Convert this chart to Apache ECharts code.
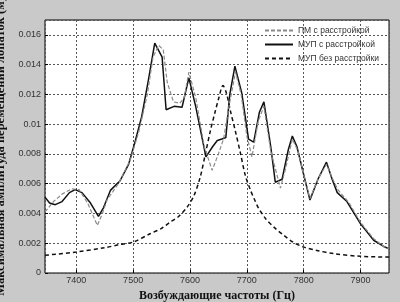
<!DOCTYPE html>
<html>
<head>
<meta charset="utf-8">
<script src="https://cdn.jsdelivr.net/npm/echarts@6/dist/echarts.min.js"></script>
<style>
  html, body { margin: 0; padding: 0; background: #c9c9c9; }
  #chart { width: 400px; height: 302px; }
</style>
</head>
<body>
<div id="chart"></div>
<script>
// ПМ с расстройкой
const pmFreq = [7345, 7360, 7375, 7392, 7405, 7420, 7437, 7446, 7454, 7474, 7495, 7510, 7525, 7535, 7545, 7553, 7560, 7571, 7582, 7590, 7598, 7610, 7625, 7639, 7650, 7659, 7670, 7680, 7690, 7700, 7709, 7720, 7730, 7742, 7759, 7768, 7780, 7790, 7800, 7811, 7825, 7840, 7850, 7860, 7880, 7900, 7923, 7940, 7951]
const pmAmp = [0.0041, 0.0048, 0.0053, 0.00566, 0.0056, 0.0047, 0.0032, 0.0040, 0.0049, 0.0060, 0.0076, 0.0095, 0.0120, 0.0145, 0.0153, 0.0150, 0.0128, 0.0115, 0.0114, 0.0118, 0.0135, 0.0118, 0.0085, 0.0069, 0.0080, 0.0090, 0.0115, 0.0135, 0.0120, 0.0092, 0.0078, 0.0102, 0.0112, 0.0082, 0.0057, 0.0070, 0.0090, 0.0082, 0.0066, 0.0050, 0.0063, 0.0073, 0.0064, 0.0056, 0.0047, 0.0034, 0.0023, 0.0018, 0.0016]

// МУП с расстройкой
const mupFreq = [7345, 7353, 7363, 7375, 7388, 7398, 7410, 7425, 7439, 7448, 7460, 7477, 7492, 7504, 7515, 7527, 7538, 7551, 7558, 7572, 7586, 7598, 7610, 7628, 7640, 7648, 7656, 7663, 7670, 7679, 7691, 7703, 7712, 7722, 7730, 7742, 7750, 7762, 7773, 7780, 7788, 7800, 7811, 7825, 7840, 7850, 7859, 7876, 7900, 7923, 7940, 7951]
const mupAmp = [0.0051, 0.0047, 0.00459, 0.0048, 0.0054, 0.0056, 0.0054, 0.0047, 0.0038, 0.0044, 0.00555, 0.0062, 0.0073, 0.0089, 0.0105, 0.0130, 0.01544, 0.0145, 0.01097, 0.0112, 0.01114, 0.01311, 0.0112, 0.0078, 0.0085, 0.0089, 0.0090, 0.0091, 0.0120, 0.0139, 0.0121, 0.0090, 0.0088, 0.0108, 0.0115, 0.0085, 0.0061, 0.0063, 0.0083, 0.0092, 0.0085, 0.0066, 0.0049, 0.0063, 0.00745, 0.0063, 0.0054, 0.0048, 0.0033, 0.0022, 0.0018, 0.0016]

// МУП без расстройки
const tunedFreq = [7345, 7400, 7450, 7475, 7500, 7530, 7550, 7565, 7580, 7595, 7607, 7618, 7627, 7636, 7644, 7651, 7658, 7664, 7671, 7680, 7689, 7697, 7706, 7715, 7720, 7733, 7750, 7765, 7780, 7800, 7825, 7853, 7900, 7950]
const tunedAmp = [0.00119, 0.00141, 0.0017, 0.0019, 0.00208, 0.00264, 0.0030, 0.00342, 0.0038, 0.00443, 0.0052, 0.00644, 0.0080, 0.00958, 0.0108, 0.01181, 0.0126, 0.0121, 0.0109, 0.0095, 0.0080, 0.0066, 0.0056, 0.0048, 0.0044, 0.00365, 0.0030, 0.00253, 0.0021, 0.00174, 0.0015, 0.0013, 0.00112, 0.00107]

const seriesNames = ['ПМ с расстройкой', 'МУП с расстройкой', 'МУП без расстройки']
const xTitle = 'Возбуждающие частоты (Гц)'
const yTitle = 'Максимальная амплитуда перемещений лопаток (м)'

const zip = (xs, ys) => xs.map((x, i) => [x, ys[i]])

const chart = echarts.init(document.getElementById('chart'))

const gridLine = { show: true, lineStyle: { color: '#555', type: [2, 2], width: 1 } }
const tickFont = { color: '#333', fontSize: 9, fontFamily: 'Liberation Sans, Arial, sans-serif' }
const titleFont = { color: '#111', fontWeight: 'bold', fontFamily: 'Liberation Serif, DejaVu Serif, serif' }
const clear = 'rgba(0,0,0,0)'

chart.setOption({
  backgroundColor: '#c9c9c9',
  animation: false,
  grid: {
    left: 45, right: 11, top: 20, bottom: 29,
    outerBoundsMode: 'none',
    containLabel: false,
    show: true, backgroundColor: '#fff', borderColor: '#000', borderWidth: 1,
  },
  legend: {
    data: seriesNames,
    left: 259,
    top: 21,
    orient: 'vertical',
    itemWidth: 28,
    itemHeight: 10,
    itemGap: 5,
    itemStyle: { color: clear, borderColor: clear, borderWidth: 0 },
    textStyle: { color: '#333', fontSize: 8.5, fontFamily: 'Liberation Sans, Arial, sans-serif' },
  },
  xAxis: {
    type: 'value',
    min: 7345,
    max: 7950,
    name: xTitle,
    nameLocation: 'middle',
    nameGap: 14,
    nameTextStyle: { ...titleFont, fontSize: 12 },
    axisLine: { show: false },
    axisTick: { show: true, inside: true, length: 3, lineStyle: { color: '#000' } },
    axisLabel: {
      ...tickFont, margin: 3, showMinLabel: false, showMaxLabel: false,
      formatter: (v) => String(v),
    },
    splitLine: gridLine,
  },
  yAxis: {
    type: 'value',
    min: 0,
    max: 0.017,
    interval: 0.002,
    name: yTitle,
    nameLocation: 'middle',
    nameGap: 27,
    nameTextStyle: { ...titleFont, fontSize: 12.5 },
    axisLine: { show: false },
    axisTick: { show: true, inside: true, length: 3, lineStyle: { color: '#000' } },
    axisLabel: {
      ...tickFont, margin: 4, showMaxLabel: false,
      formatter: (v) => String(+v.toFixed(3)),
    },
    splitLine: gridLine,
  },
  series: [
    {
      name: seriesNames[0],
      type: 'line',
      data: zip(pmFreq, pmAmp),
      showSymbol: false,
      symbol: 'none',
      lineStyle: { color: '#8a8a8a', width: 1.2, type: [4, 2] },
      itemStyle: { color: '#8a8a8a' },
      z: 3,
    },
    {
      name: seriesNames[1],
      type: 'line',
      data: zip(mupFreq, mupAmp),
      showSymbol: false,
      symbol: 'none',
      lineStyle: { color: '#111', width: 1.5 },
      itemStyle: { color: '#111' },
      z: 2,
    },
    {
      name: seriesNames[2],
      type: 'line',
      data: zip(tunedFreq, tunedAmp),
      showSymbol: false,
      symbol: 'none',
      smooth: 0.3,
      lineStyle: { color: '#111', width: 1.5, type: [4, 3] },
      itemStyle: { color: '#111' },
      z: 2,
    },
  ],
})
</script>
</body>
</html>
